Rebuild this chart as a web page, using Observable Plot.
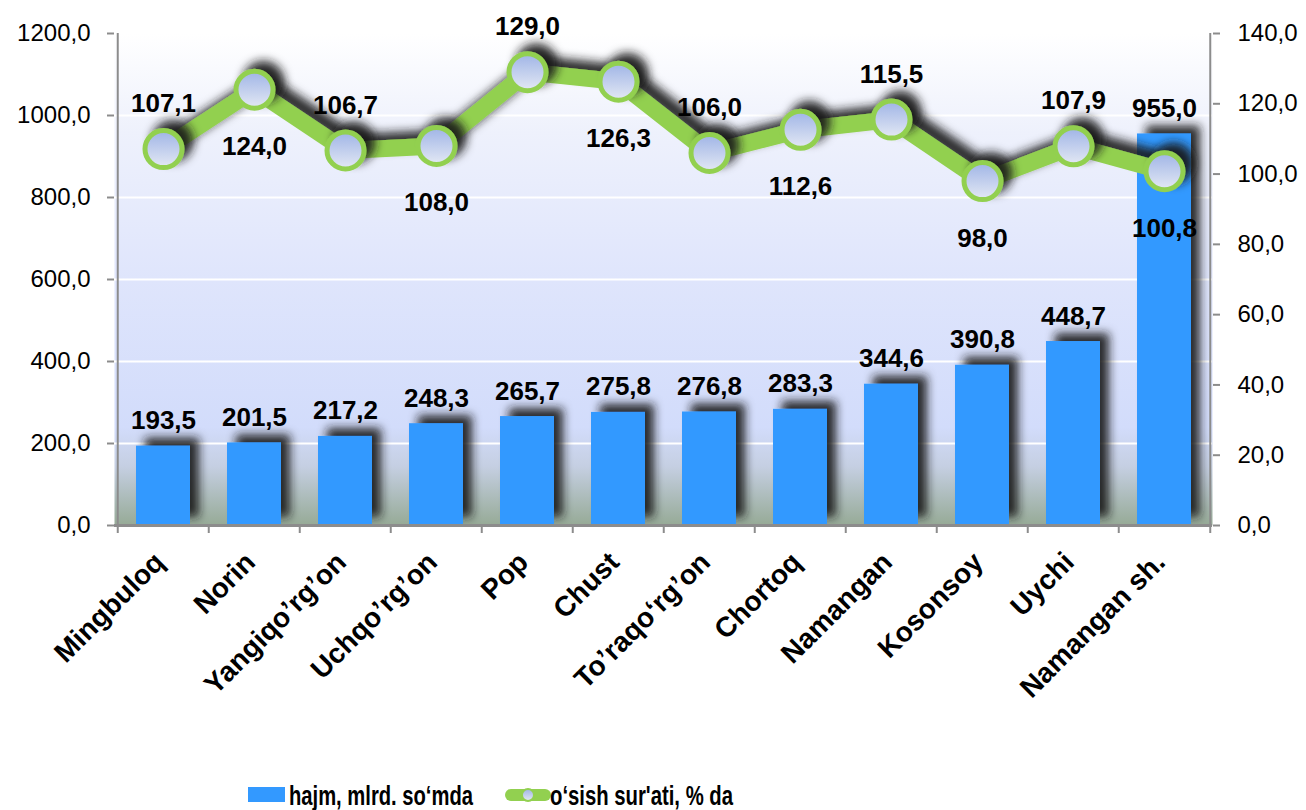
<!DOCTYPE html>
<html>
<head>
<meta charset="utf-8">
<script src="https://cdn.jsdelivr.net/npm/d3@7"></script>
<script src="https://cdn.jsdelivr.net/npm/@observablehq/plot@0.6"></script>
<style>
  html, body { margin: 0; padding: 0; background: #fff; }
  #chart svg { display: block; }
</style>
</head>
<body>
<div id="chart"></div>
<script>
const categories = ["Mingbuloq","Norin","Yangiqo’rg’on","Uchqo’rg’on","Pop","Chust","To’raqo‘rg’on","Chortoq","Namangan","Kosonsoy","Uychi","Namangan sh."];
const hajm = [193.5,201.5,217.2,248.3,265.7,275.8,276.8,283.3,344.6,390.8,448.7,955.0];
const rate = [107.1,124.0,106.7,108.0,129.0,126.3,106.0,112.6,115.5,98.0,107.9,100.8];
const leftTicks = [0,200,400,600,800,1000,1200];
const rightTicks = [0,20,40,60,80,100,120,140];
const gridTicks = [200,400,600,800,1000];
const seriesNames = ["hajm, mlrd. so‘mda", "o‘sish sur'ati, % da"];

const leftMax = 1200, rightMax = 140;
const toLeft = v => v * leftMax / rightMax;
const fmt = v => d3.format(".1f")(v).replace(".", ",");

const data = categories.map((c, i) => ({cat: c, hajm: hajm[i], rate: rate[i], i}));

const W = 1306, H = 772;
const mL = 114, mR = 94, mT = 33, mB = H - 525;
const step = (W - mL - mR) / categories.length;

const font = "'Liberation Sans', Arial, sans-serif";
const labelStyle = {fontWeight: "bold", fontSize: 26, fill: "#000", letterSpacing: "0.8px"};

const plot = Plot.plot({
  width: W, height: H,
  marginLeft: mL, marginRight: mR, marginTop: mT, marginBottom: mB,
  style: {fontFamily: font, fontSize: "24px", color: "#000", background: "transparent", overflow: "visible"},
  x: {domain: categories, paddingInner: 0.41, paddingOuter: 0.205},
  y: {domain: [0, leftMax]},
  marks: [
    Plot.frame({fill: "url(#bgGrad)", stroke: null}),
    Plot.gridY(gridTicks, {stroke: "#fff", strokeOpacity: 1, strokeWidth: 2}),
    Plot.barY(data, {x: "cat", y: "hajm", fill: "#3399ff"}),
    Plot.line(data, {x: "cat", y: d => toLeft(d.rate), stroke: "#92d050", strokeWidth: 17, strokeLinejoin: "round"}),
    Plot.dot(data, {x: "cat", y: d => toLeft(d.rate), r: 18.5, fill: "url(#dotGrad)", stroke: "#92d050", strokeWidth: 5}),
    // axes lines
    Plot.ruleX([0], {x: () => categories[0], dx: -step / 2, y1: 0, y2: leftMax, stroke: "#8c8c8c", strokeWidth: 2}),
    Plot.ruleX([0], {x: () => categories[categories.length - 1], dx: step / 2, y1: 0, y2: leftMax, stroke: "#8c8c8c", strokeWidth: 2}),
    Plot.ruleY([0], {stroke: "#8c8c8c", strokeWidth: 3}),
    // left axis
    Plot.axisY(leftTicks, {anchor: "left", tickSize: 7, tickPadding: 17, tickFormat: fmt, stroke: "#8c8c8c", strokeWidth: 2, fontSize: 24, fill: "#000", label: null, letterSpacing: "1.1px"}),
    // right axis
    Plot.axisY(rightTicks.map(toLeft), {anchor: "right", tickSize: 7, tickPadding: 18, tickFormat: v => fmt(v * rightMax / leftMax), stroke: "#8c8c8c", strokeWidth: 2, fontSize: 24, fill: "#000", label: null, letterSpacing: "1.1px"}),
    // x ticks at band boundaries
    Plot.axisX({tickSize: 8, tickFormat: () => "", dx: -step / 2, stroke: "#8c8c8c", strokeWidth: 2, label: null}),
    Plot.axisX({tickSize: 8, tickFormat: () => "", dx: step / 2, stroke: "#8c8c8c", strokeWidth: 2, label: null, filter: d => d === categories[categories.length - 1]}),
    // category labels
    Plot.axisX({tickSize: 0, tickPadding: 32, dx: -4, tickRotate: -45, fontWeight: "bold", fontSize: 28, fill: "#000", label: null}),
    // bar labels
    Plot.text(data, {x: "cat", y: "hajm", text: d => fmt(d.hajm), lineAnchor: "bottom", dy: -17, ...labelStyle}),
    // line labels
    Plot.text(data.filter(d => d.i % 2 === 0), {x: "cat", y: d => toLeft(d.rate), text: d => fmt(d.rate), lineAnchor: "bottom", dy: -37, ...labelStyle}),
    Plot.text(data.filter(d => d.i % 2 === 1), {x: "cat", y: d => toLeft(d.rate), text: d => fmt(d.rate), lineAnchor: "top", dy: 47, ...labelStyle})
  ]
});

document.getElementById("chart").appendChild(plot);

// defs: gradients and shadow filter
const svg = d3.select(plot);
const defs = svg.insert("defs", ":first-child");
const bg = defs.append("linearGradient").attr("id", "bgGrad").attr("x1", 0).attr("y1", 0).attr("x2", 0).attr("y2", 1);
[[0, "#ffffff"], [0.2, "#eef1fc"], [0.5, "#dfe5fc"], [0.8, "#d2dcfb"], [0.88, "#c5cfe2"], [1, "#96aa96"]]
  .forEach(([o, c]) => bg.append("stop").attr("offset", o).attr("stop-color", c));
const dg = defs.append("linearGradient").attr("id", "dotGrad").attr("x1", 0).attr("y1", 0).attr("x2", 0).attr("y2", 1);
[[0, "#9fb4e6"], [1, "#e4e9f4"]].forEach(([o, c]) => dg.append("stop").attr("offset", o).attr("stop-color", c));

const sh = defs.append("filter").attr("id", "shadow").attr("filterUnits", "userSpaceOnUse")
  .attr("x", 0).attr("y", 0).attr("width", W).attr("height", H);
sh.append("feGaussianBlur").attr("in", "SourceAlpha").attr("stdDeviation", 5).attr("result", "blur");
sh.append("feOffset").attr("in", "blur").attr("dx", 9).attr("dy", -8).attr("result", "off");
sh.append("feFlood").attr("flood-color", "#1a1a1a").attr("flood-opacity", 0.9).attr("result", "col");
sh.append("feComposite").attr("in", "col").attr("in2", "off").attr("operator", "in").attr("result", "shadow");
const merge = sh.append("feMerge");
merge.append("feMergeNode").attr("in", "shadow");
merge.append("feMergeNode").attr("in", "SourceGraphic");

svg.selectAll("g[aria-label='bar']").attr("filter", "url(#shadow)");
svg.selectAll("g[aria-label='line']").attr("filter", "url(#shadow)");
svg.selectAll("g[aria-label='dot']").attr("filter", "url(#shadow)");

// legend (below the plot)
const lg = d3.select("body").append("svg").attr("width", W).attr("height", 810 - H).style("display", "block")
  .style("font-family", font).style("font-weight", "bold").style("font-size", "27px");
const ldefs = lg.append("defs");
const dg2 = ldefs.append("linearGradient").attr("id", "dotGrad2").attr("x1", 0).attr("y1", 0).attr("x2", 0).attr("y2", 1);
[[0, "#9fb4e6"], [1, "#e4e9f4"]].forEach(([o, c]) => dg2.append("stop").attr("offset", o).attr("stop-color", c));
const ly = 795 - H;
lg.append("rect").attr("x", 248).attr("y", ly - 8).attr("width", 37).attr("height", 15).attr("fill", "#3399ff");
lg.append("text").attr("x", 289).attr("y", ly + 10).attr("textLength", 184).attr("lengthAdjust", "spacingAndGlyphs").text(seriesNames[0]);
lg.append("line").attr("x1", 511).attr("x2", 545).attr("y1", ly).attr("y2", ly).attr("stroke", "#92d050").attr("stroke-width", 12).attr("stroke-linecap", "round");
lg.append("circle").attr("cx", 528).attr("cy", ly).attr("r", 6).attr("fill", "url(#dotGrad2)").attr("stroke", "#92d050").attr("stroke-width", 2);
lg.append("text").attr("x", 550).attr("y", ly + 10).attr("textLength", 183).attr("lengthAdjust", "spacingAndGlyphs").text(seriesNames[1]);
</script>
</body>
</html>
